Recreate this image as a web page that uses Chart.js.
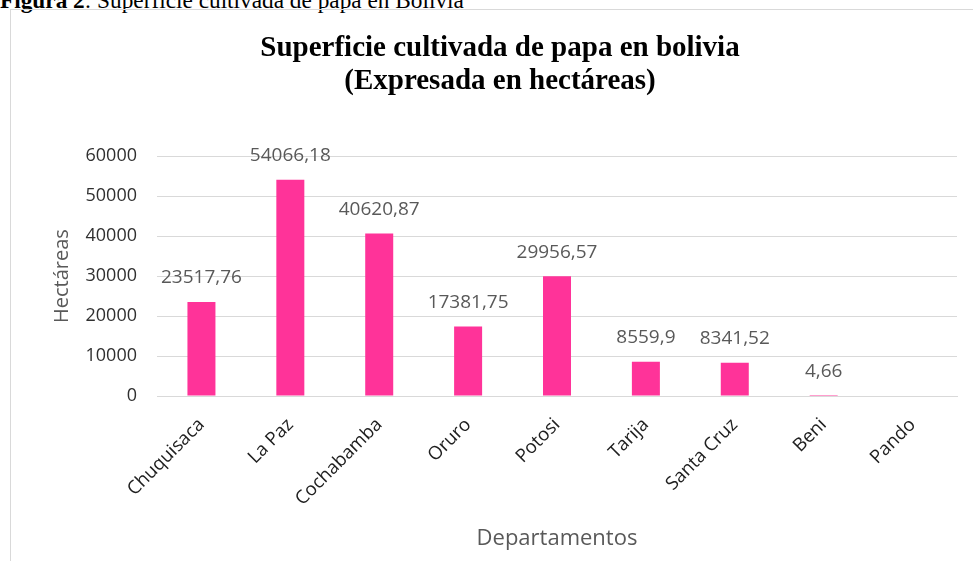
<!DOCTYPE html>
<html>
<head>
<meta charset="utf-8">
<script src="https://cdn.jsdelivr.net/npm/chart.js@4"></script>
<style>
  html, body { margin:0; padding:0; background:#fff; overflow:hidden; }
  body { width:973px; height:561px; position:relative; }
  #caption { position:absolute; left:0; top:-11px; font-family:"Liberation Serif", serif; font-size:23.3px; line-height:1; color:#000; white-space:nowrap; }
  #frame { position:absolute; left:10px; top:9px; width:980px; height:580px; border:1px solid #d9d9d9; box-sizing:border-box; }
  #wrap { position:absolute; left:11px; top:10px; width:962px; height:551px; }
</style>
</head>
<body>
<div id="caption"><b>Figura 2</b>: Superficie cultivada de papa en Bolivia</div>
<div id="frame"></div>
<div id="wrap"><canvas id="chart"></canvas></div>
<script>
// Superficie cultivada de papa por departamento (hectáreas)
const departamentos = ['Chuquisaca', 'La Paz', 'Cochabamba', 'Oruro', 'Potosi', 'Tarija', 'Santa Cruz', 'Beni', 'Pando'];
const hectareas = [23517.76, 54066.18, 40620.87, 17381.75, 29956.57, 8559.9, 8341.52, 4.66, null];
const etiquetas = ['23517,76', '54066,18', '40620,87', '17381,75', '29956,57', '8559,9', '8341,52', '4,66', ''];
const yTicks = [0, 10000, 20000, 30000, 40000, 50000, 60000];

// labels above each bar
const barLabels = {
  id: 'barLabels',
  afterDatasetsDraw(chart) {
    const ctx = chart.ctx;
    const meta = chart.getDatasetMeta(0);
    ctx.save();
    ctx.font = '19px "Open Sans", sans-serif';
    ctx.fillStyle = '#595959';
    ctx.textAlign = 'center';
    ctx.textBaseline = 'middle';
    meta.data.forEach((bar, i) => {
      if (!etiquetas[i]) return;
      ctx.fillText(etiquetas[i], bar.x, bar.y - 24);
    });
    ctx.restore();
  }
};

new Chart(document.getElementById('chart'), {
  type: 'bar',
  data: {
    labels: departamentos,
    datasets: [{
      data: hectareas,
      backgroundColor: '#ff3399',
      barPercentage: 0.315,
      categoryPercentage: 1
    }]
  },
  plugins: [barLabels],
  options: {
    responsive: true,
    maintainAspectRatio: false,
    animation: false,
    layout: { padding: { left: 32, right: 16, top: 0, bottom: 0 } },
    plugins: {
      legend: { display: false },
      tooltip: { enabled: false },
      title: {
        display: true,
        text: ['Superficie cultivada de papa en bolivia', '(Expresada en hectáreas)'],
        font: { family: '"Liberation Serif", serif', size: 29, weight: 'bold', lineHeight: 1.14 },
        color: '#000',
        padding: { top: 22, bottom: 58 }
      }
    },
    scales: {
      y: {
        min: 0,
        max: 60000,
        afterBuildTicks(axis) { axis.ticks = yTicks.map(v => ({ value: v })); },
        afterFit(axis) { axis.width = 114; },
        grid: { color: '#d9d9d9', drawTicks: false },
        border: { display: false },
        ticks: {
          padding: 20,
          color: '#303030',
          font: { family: '"Open Sans", sans-serif', size: 18 },
          callback: v => String(v)
        },
        title: {
          display: true,
          text: 'Hectáreas',
          color: '#595959',
          font: { family: '"Open Sans", sans-serif', size: 20 },
          padding: { top: 7, bottom: 0 }
        }
      },
      x: {
        afterFit(axis) { axis.height = 165; },
        grid: { display: false, drawTicks: false },
        border: { display: true, color: '#d9d9d9' },
        ticks: {
          padding: 18,
          color: '#202020',
          maxRotation: 45,
          minRotation: 45,
          font: { family: '"Open Sans", sans-serif', size: 18.5 }
        },
        title: {
          display: true,
          text: 'Departamentos',
          color: '#595959',
          font: { family: '"Open Sans", sans-serif', size: 22 },
          padding: { top: 0, bottom: 9 }
        }
      }
    }
  }
});
</script>
</body>
</html>
